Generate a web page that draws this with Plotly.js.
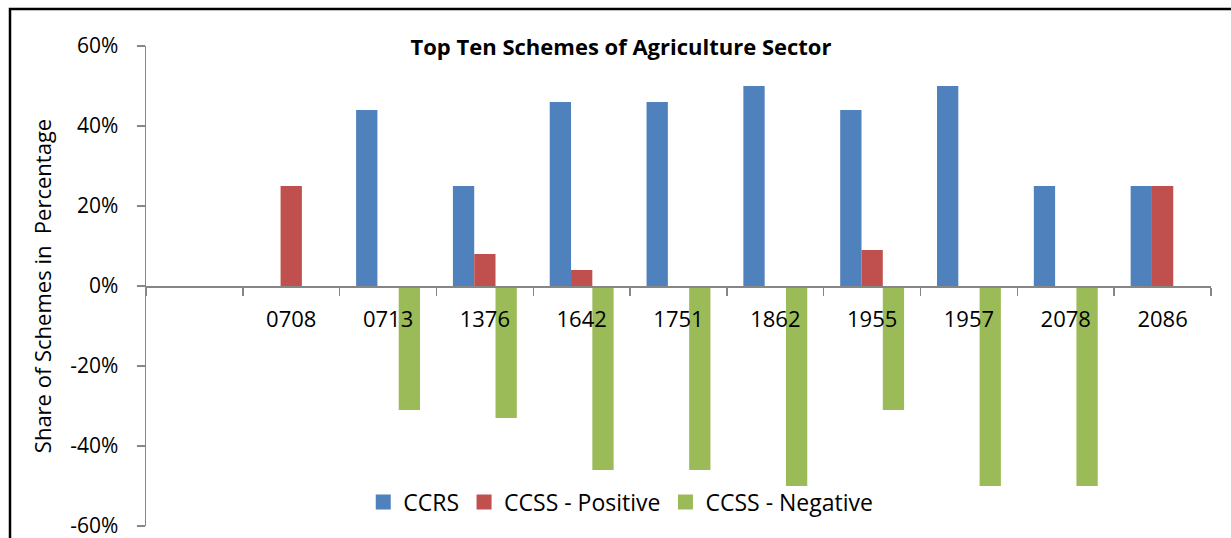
<!DOCTYPE html>
<html>
<head>
<meta charset="utf-8">
<script src="https://cdn.plot.ly/plotly-3.0.1.min.js"></script>
<style>
html,body{margin:0;padding:0;background:#fff;}
#chart{width:1231px;height:538px;}
</style>
</head>
<body>
<div id="chart"></div>
<script>
// Categories (first slot is empty in the original chart)
const categories = [' ', '0708', '0713', '1376', '1642', '1751', '1862', '1955', '1957', '2078', '2086'];
// Series values in percent
const ccrs         = [null, 0, 44, 25, 46, 46, 50, 44, 50, 25, 25];
const ccssPositive = [null, 25, 0, 8, 4, 0, 0, 9, 0, 0, 25];
const ccssNegative = [null, 0, -31, -33, -46, -46, -50, -31, -50, -50, 0];
// Series names and colours
const seriesNames = ['CCRS', 'CCSS - Positive', 'CCSS - Negative'];
const seriesColors = ['#4F81BD', '#C0504D', '#9BBB59'];
// Y axis ticks
const yTickVals = [-60, -40, -20, 0, 20, 40, 60];
const yTickText = ['-60%', '-40%', '-20%', '0%', '20%', '40%', '60%'];

const FONT = 'Open Sans, Liberation Sans, Arial, sans-serif';
const AXIS_GRAY = '#868686';

const seriesValues = [ccrs, ccssPositive, ccssNegative];
const traces = [];
seriesValues.forEach((vals, i) => {
  traces.push({
    type: 'bar', name: seriesNames[i], x: categories, y: vals,
    legendgroup: 'g' + i, showlegend: false,
    marker: {color: seriesColors[i], line: {width: 0}}
  });
});
// legend entries with square swatches
seriesNames.forEach((name, i) => {
  traces.push({
    type: 'scatter', mode: 'markers', name: name, x: [null], y: [null],
    legendgroup: 'g' + i, showlegend: true,
    marker: {symbol: 'square', size: 15, color: seriesColors[i], line: {width: 0}}
  });
});

const layout = {
  width: 1231, height: 538,
  margin: {l: 146, r: 20, t: 46, b: 12},
  paper_bgcolor: 'rgba(0,0,0,0)',
  plot_bgcolor: 'rgba(0,0,0,0)',
  font: {family: FONT, size: 22, color: '#000'},
  barmode: 'group', bargap: 0.34, bargroupgap: 0,
  showlegend: true,
  title: {
    text: '<b>Top Ten Schemes of Agriculture Sector</b>',
    font: {family: FONT, size: 22, color: '#000'},
    xref: 'paper', x: 0.446, xanchor: 'center',
    yref: 'container', y: 1 - 47 / 538, yanchor: 'middle'
  },
  xaxis: {
    type: 'category', categoryorder: 'array', categoryarray: categories,
    range: [-0.5, 10.5],
    anchor: 'free', position: 0.5,
    showline: true, linecolor: AXIS_GRAY, linewidth: 1.5,
    ticks: 'outside', tickson: 'boundaries', ticklen: 8, tickcolor: AXIS_GRAY, tickwidth: 1.5,
    ticklabelstandoff: 13,
    tickfont: {family: FONT, size: 22, color: '#000'},
    showgrid: false, zeroline: false, fixedrange: true
  },
  yaxis: {
    range: [-60, 60],
    tickmode: 'array', tickvals: yTickVals, ticktext: yTickText,
    showline: true, linecolor: AXIS_GRAY, linewidth: 1.5,
    ticks: 'outside', ticklen: 8, tickcolor: AXIS_GRAY, tickwidth: 1.5,
    ticklabelstandoff: 14, ticklabeloverflow: 'allow',
    tickfont: {family: FONT, size: 21, color: '#000'},
    showgrid: false, zeroline: false, fixedrange: true,
    title: {text: 'Share of Schemes in  Percentage', font: {family: FONT, size: 22, color: '#000'}, standoff: 12}
  },
  legend: {
    orientation: 'h', x: 0.204, xanchor: 'left', y: 0.05, yanchor: 'middle',
    bgcolor: 'rgba(0,0,0,0)', font: {family: FONT, size: 23, color: '#000'},
    traceorder: 'normal', itemwidth: 30, itemsizing: 'trace'
  },
  shapes: [{
    type: 'rect', xref: 'paper', yref: 'paper',
    x0: (10 - 146) / 1065, x1: 1.1, y0: -0.2, y1: (526 - 9) / 480,
    line: {color: '#000', width: 2.5}, fillcolor: 'rgba(0,0,0,0)', layer: 'below'
  }]
};

Plotly.newPlot('chart', traces, layout, {displayModeBar: false, staticPlot: true});
</script>
</body>
</html>
